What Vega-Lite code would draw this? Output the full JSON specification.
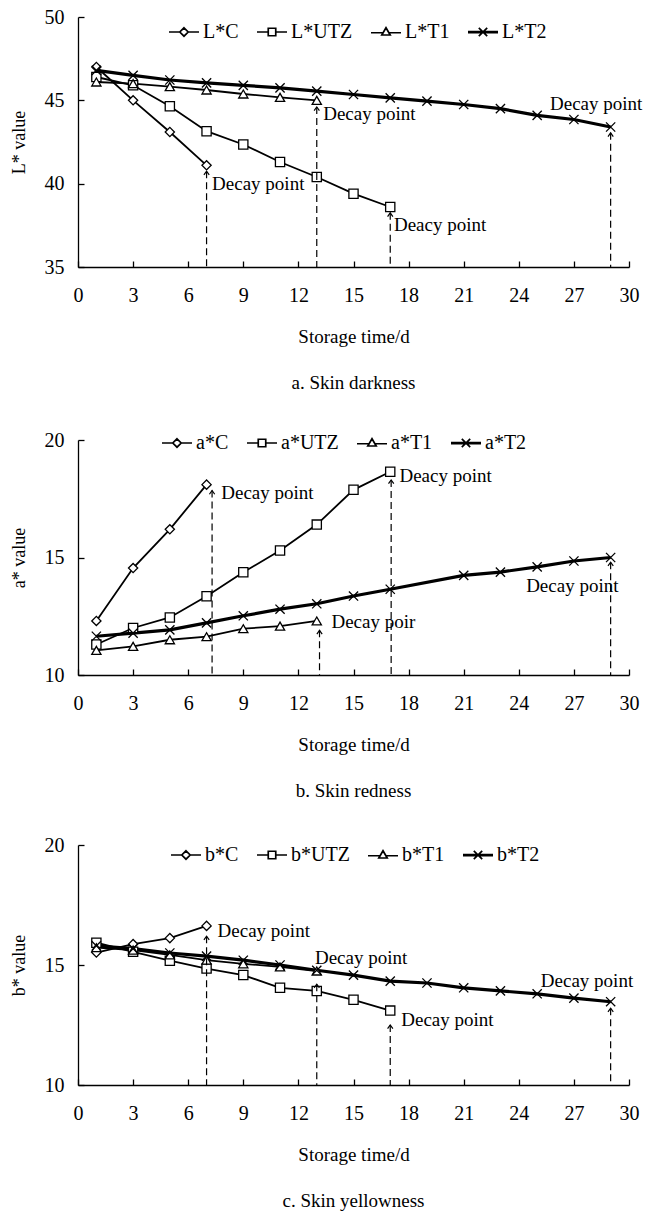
{
  "$schema": "https://vega.github.io/schema/vega-lite/v6.json",
  "padding": {"left": 10, "top": 7, "right": 0, "bottom": 0},
  "spacing": 34,
  "resolve": {"scale": {"shape": "independent"}, "legend": {"shape": "independent"}},
  "datasets": {
    "la": [
      {"day": 1, "value": 47.0, "series": "C"}, {"day": 3, "value": 45.0, "series": "C"}, {"day": 5, "value": 43.1, "series": "C"}, {"day": 7, "value": 41.1, "series": "C"},
      {"day": 1, "value": 46.4, "series": "UTZ"}, {"day": 3, "value": 45.9, "series": "UTZ"}, {"day": 5, "value": 44.65, "series": "UTZ"}, {"day": 7, "value": 43.15, "series": "UTZ"}, {"day": 9, "value": 42.35, "series": "UTZ"}, {"day": 11, "value": 41.3, "series": "UTZ"}, {"day": 13, "value": 40.4, "series": "UTZ"}, {"day": 15, "value": 39.4, "series": "UTZ"}, {"day": 17, "value": 38.6, "series": "UTZ"},
      {"day": 1, "value": 46.1, "series": "T1"}, {"day": 3, "value": 46.0, "series": "T1"}, {"day": 5, "value": 45.82, "series": "T1"}, {"day": 7, "value": 45.62, "series": "T1"}, {"day": 9, "value": 45.38, "series": "T1"}, {"day": 11, "value": 45.18, "series": "T1"}, {"day": 13, "value": 45.0, "series": "T1"},
      {"day": 1, "value": 46.8, "series": "T2"}, {"day": 3, "value": 46.5, "series": "T2"}, {"day": 5, "value": 46.22, "series": "T2"}, {"day": 7, "value": 46.05, "series": "T2"}, {"day": 9, "value": 45.9, "series": "T2"}, {"day": 11, "value": 45.75, "series": "T2"}, {"day": 13, "value": 45.55, "series": "T2"}, {"day": 15, "value": 45.35, "series": "T2"}, {"day": 17, "value": 45.15, "series": "T2"}, {"day": 19, "value": 44.95, "series": "T2"}, {"day": 21, "value": 44.75, "series": "T2"}, {"day": 23, "value": 44.5, "series": "T2"}, {"day": 25, "value": 44.1, "series": "T2"}, {"day": 27, "value": 43.85, "series": "T2"}, {"day": 29, "value": 43.4, "series": "T2"}
    ],
    "lad": [
      {"dx": 7, "top": 40.75, "lx": 7.3, "ly": 40.0, "label": "Decay point"},
      {"dx": 13, "top": 44.6, "lx": 13.35, "ly": 44.2, "label": "Decay point"},
      {"dx": 17, "top": 38.25, "lx": 17.2, "ly": 37.5, "label": "Deacy point"},
      {"dx": 29, "top": 43.05, "lx": 25.7, "ly": 44.8, "label": "Decay point"}
    ],
    "lb": [
      {"day": 1, "value": 12.3, "series": "C"}, {"day": 3, "value": 14.55, "series": "C"}, {"day": 5, "value": 16.2, "series": "C"}, {"day": 7, "value": 18.1, "series": "C"},
      {"day": 1, "value": 11.3, "series": "UTZ"}, {"day": 3, "value": 12.0, "series": "UTZ"}, {"day": 5, "value": 12.45, "series": "UTZ"}, {"day": 7, "value": 13.35, "series": "UTZ"}, {"day": 9, "value": 14.37, "series": "UTZ"}, {"day": 11, "value": 15.3, "series": "UTZ"}, {"day": 13, "value": 16.4, "series": "UTZ"}, {"day": 15, "value": 17.88, "series": "UTZ"}, {"day": 17, "value": 18.65, "series": "UTZ"},
      {"day": 1, "value": 11.05, "series": "T1"}, {"day": 3, "value": 11.22, "series": "T1"}, {"day": 5, "value": 11.5, "series": "T1"}, {"day": 7, "value": 11.63, "series": "T1"}, {"day": 9, "value": 11.97, "series": "T1"}, {"day": 11, "value": 12.08, "series": "T1"}, {"day": 13, "value": 12.3, "series": "T1"},
      {"day": 1, "value": 11.65, "series": "T2"}, {"day": 3, "value": 11.78, "series": "T2"}, {"day": 5, "value": 11.92, "series": "T2"}, {"day": 7, "value": 12.22, "series": "T2"}, {"day": 9, "value": 12.52, "series": "T2"}, {"day": 11, "value": 12.8, "series": "T2"}, {"day": 13, "value": 13.03, "series": "T2"}, {"day": 15, "value": 13.36, "series": "T2"}, {"day": 17, "value": 13.65, "series": "T2"}, {"day": 21, "value": 14.24, "series": "T2"}, {"day": 23, "value": 14.38, "series": "T2"}, {"day": 25, "value": 14.6, "series": "T2"}, {"day": 27, "value": 14.85, "series": "T2"}, {"day": 29, "value": 15.0, "series": "T2"}
    ],
    "lbd": [
      {"dx": 7.3, "top": 17.85, "lx": 7.8, "ly": 17.75, "label": "Decay point"},
      {"dx": 13.15, "top": 11.9, "lx": 13.8, "ly": 12.25, "label": "Decay poir"},
      {"dx": 17.05, "top": 18.3, "lx": 17.5, "ly": 18.45, "label": "Deacy point"},
      {"dx": 29, "top": 14.8, "lx": 24.4, "ly": 13.8, "label": "Decay point"}
    ],
    "lc": [
      {"day": 1, "value": 15.52, "series": "C"}, {"day": 3, "value": 15.87, "series": "C"}, {"day": 5, "value": 16.12, "series": "C"}, {"day": 7, "value": 16.63, "series": "C"},
      {"day": 1, "value": 15.93, "series": "UTZ"}, {"day": 3, "value": 15.55, "series": "UTZ"}, {"day": 5, "value": 15.18, "series": "UTZ"}, {"day": 7, "value": 14.85, "series": "UTZ"}, {"day": 9, "value": 14.58, "series": "UTZ"}, {"day": 11, "value": 14.05, "series": "UTZ"}, {"day": 13, "value": 13.92, "series": "UTZ"}, {"day": 15, "value": 13.55, "series": "UTZ"}, {"day": 17, "value": 13.1, "series": "UTZ"},
      {"day": 1, "value": 15.72, "series": "T1"}, {"day": 3, "value": 15.62, "series": "T1"}, {"day": 5, "value": 15.42, "series": "T1"}, {"day": 7, "value": 15.2, "series": "T1"}, {"day": 9, "value": 15.05, "series": "T1"}, {"day": 11, "value": 14.92, "series": "T1"}, {"day": 13, "value": 14.75, "series": "T1"},
      {"day": 1, "value": 15.8, "series": "T2"}, {"day": 3, "value": 15.68, "series": "T2"}, {"day": 5, "value": 15.5, "series": "T2"}, {"day": 7, "value": 15.37, "series": "T2"}, {"day": 9, "value": 15.2, "series": "T2"}, {"day": 11, "value": 15.0, "series": "T2"}, {"day": 13, "value": 14.78, "series": "T2"}, {"day": 15, "value": 14.58, "series": "T2"}, {"day": 17, "value": 14.33, "series": "T2"}, {"day": 19, "value": 14.25, "series": "T2"}, {"day": 21, "value": 14.05, "series": "T2"}, {"day": 23, "value": 13.92, "series": "T2"}, {"day": 25, "value": 13.8, "series": "T2"}, {"day": 27, "value": 13.62, "series": "T2"}, {"day": 29, "value": 13.47, "series": "T2"}
    ],
    "lcd": [
      {"dx": 7, "top": 16.2, "lx": 7.6, "ly": 16.4, "label": "Decay point"},
      {"dx": 13, "top": 14.2, "lx": 12.9, "ly": 15.28, "label": "Decay point"},
      {"dx": 17, "top": 12.5, "lx": 17.6, "ly": 12.7, "label": "Decay point"},
      {"dx": 29, "top": 13.2, "lx": 25.2, "ly": 14.33, "label": "Decay point"}
    ]
  },
  "vconcat": [
    {
      "width": 551, "height": 250,
      "title": {"text": "a. Skin darkness", "orient": "bottom", "offset": 28},
      "resolve": {"scale": {"shape": "independent"}, "legend": {"shape": "independent"}},
      "layer": [
        {
          "data": {"name": "la"},
          "transform": [{"filter": "datum.series !== 'T2'"}],
          "mark": {"type": "line", "color": "black", "strokeWidth": 1.8},
          "encoding": {
            "x": {"field": "day", "type": "quantitative", "scale": {"domain": [0, 30], "nice": false}, "axis": {"title": "Storage time/d", "values": [0, 1.5, 3, 4.5, 6, 7.5, 9, 10.5, 12, 13.5, 15, 16.5, 18, 19.5, 21, 22.5, 24, 25.5, 27, 28.5, 30], "labelExpr": "datum.value % 3 === 0 ? datum.label : ''", "titlePadding": 22}},
            "y": {"field": "value", "type": "quantitative", "scale": {"domain": [35, 50], "nice": false, "zero": false}, "axis": {"title": "L* value", "values": [35, 40, 45, 50]}},
            "detail": {"field": "series"}
          }
        },
        {
          "data": {"name": "la"},
          "transform": [{"filter": "datum.series === 'T2'"}],
          "mark": {"type": "line", "color": "black", "strokeWidth": 3.2},
          "encoding": {
            "x": {"field": "day", "type": "quantitative"},
            "y": {"field": "value", "type": "quantitative"}
          }
        },
        {
          "data": {"name": "la"},
          "mark": {"type": "point", "filled": false, "fill": "white", "stroke": "black", "opacity": 0},
          "encoding": {
            "x": {"field": "day", "type": "quantitative"},
            "y": {"field": "value", "type": "quantitative"},
            "shape": {"field": "series", "type": "nominal", "scale": {"domain": ["C", "UTZ", "T1", "T2"], "range": [
              "M-1,0L-0.28,0M0.28,0L1,0M0,-0.28L0.28,0L0,0.28L-0.28,0Z",
              "M-1,0L-0.25,0M0.25,0L1,0M-0.25,-0.25L0.25,-0.25L0.25,0.25L-0.25,0.25Z",
              "M-1,0.05L-0.16,0.05M0.16,0.05L1,0.05M0,-0.28L0.28,0.2L-0.28,0.2Z",
              "M-1,-0.035L1,-0.035M-1,0.035L1,0.035M-0.28,-0.28L0.28,0.28M-0.28,0.28L0.28,-0.28"]},
              "legend": {"orient": "none", "legendX": 90, "legendY": -1, "direction": "horizontal", "title": null, "labelExpr": "'L*' + datum.label"}}
          }
        },
        {
          "data": {"name": "la"},
          "mark": {"type": "point", "filled": false, "fill": "white", "stroke": "black", "strokeWidth": 1.3, "size": 85, "opacity": 1},
          "encoding": {
            "x": {"field": "day", "type": "quantitative"},
            "y": {"field": "value", "type": "quantitative"},
            "shape": {"field": "series", "type": "nominal", "scale": {"domain": ["C", "UTZ", "T1", "T2"], "range": ["diamond", "square", "triangle-up", "M-1,-1L1,1M-1,1L1,-1"]}, "legend": null}
          }
        },
        {
          "data": {"name": "lad"},
          "mark": {"type": "rule", "color": "black", "strokeWidth": 1.2, "strokeDash": [7, 4]},
          "encoding": {
            "x": {"field": "dx", "type": "quantitative"},
            "y": {"field": "top", "type": "quantitative"},
            "y2": {"datum": 35}
          }
        },
        {
          "data": {"name": "lad"},
          "mark": {"type": "point", "shape": "M-1,1.4L0,0L1,1.4", "size": 28, "filled": false, "stroke": "black", "strokeWidth": 1.2, "opacity": 1},
          "encoding": {
            "x": {"field": "dx", "type": "quantitative"},
            "y": {"field": "top", "type": "quantitative"}
          }
        },
        {
          "data": {"name": "lad"},
          "mark": {"type": "text", "align": "left", "baseline": "middle", "fontSize": 19, "font": "Liberation Serif", "color": "black"},
          "encoding": {
            "x": {"field": "lx", "type": "quantitative"},
            "y": {"field": "ly", "type": "quantitative"},
            "text": {"field": "label"}
          }
        }
      ]
    },
    {
      "width": 551, "height": 235,
      "title": {"text": "b. Skin redness", "orient": "bottom", "offset": 28},
      "resolve": {"scale": {"shape": "independent"}, "legend": {"shape": "independent"}},
      "layer": [
        {
          "data": {"name": "lb"},
          "transform": [{"filter": "datum.series !== 'T2'"}],
          "mark": {"type": "line", "color": "black", "strokeWidth": 1.8},
          "encoding": {
            "x": {"field": "day", "type": "quantitative", "scale": {"domain": [0, 30], "nice": false}, "axis": {"title": "Storage time/d", "values": [0, 1.5, 3, 4.5, 6, 7.5, 9, 10.5, 12, 13.5, 15, 16.5, 18, 19.5, 21, 22.5, 24, 25.5, 27, 28.5, 30], "labelExpr": "datum.value % 3 === 0 ? datum.label : ''", "titlePadding": 22}},
            "y": {"field": "value", "type": "quantitative", "scale": {"domain": [10, 20], "nice": false, "zero": false}, "axis": {"title": "a* value", "values": [10, 15, 20]}},
            "detail": {"field": "series"}
          }
        },
        {
          "data": {"name": "lb"},
          "transform": [{"filter": "datum.series === 'T2'"}],
          "mark": {"type": "line", "color": "black", "strokeWidth": 3.2},
          "encoding": {
            "x": {"field": "day", "type": "quantitative"},
            "y": {"field": "value", "type": "quantitative"}
          }
        },
        {
          "data": {"name": "lb"},
          "mark": {"type": "point", "filled": false, "fill": "white", "stroke": "black", "opacity": 0},
          "encoding": {
            "x": {"field": "day", "type": "quantitative"},
            "y": {"field": "value", "type": "quantitative"},
            "shape": {"field": "series", "type": "nominal", "scale": {"domain": ["C", "UTZ", "T1", "T2"], "range": [
              "M-1,0L-0.28,0M0.28,0L1,0M0,-0.28L0.28,0L0,0.28L-0.28,0Z",
              "M-1,0L-0.25,0M0.25,0L1,0M-0.25,-0.25L0.25,-0.25L0.25,0.25L-0.25,0.25Z",
              "M-1,0.05L-0.16,0.05M0.16,0.05L1,0.05M0,-0.28L0.28,0.2L-0.28,0.2Z",
              "M-1,-0.035L1,-0.035M-1,0.035L1,0.035M-0.28,-0.28L0.28,0.28M-0.28,0.28L0.28,-0.28"]},
              "legend": {"orient": "none", "legendX": 83, "legendY": -13, "direction": "horizontal", "title": null, "labelExpr": "'a*' + datum.label"}}
          }
        },
        {
          "data": {"name": "lb"},
          "mark": {"type": "point", "filled": false, "fill": "white", "stroke": "black", "strokeWidth": 1.3, "size": 85, "opacity": 1},
          "encoding": {
            "x": {"field": "day", "type": "quantitative"},
            "y": {"field": "value", "type": "quantitative"},
            "shape": {"field": "series", "type": "nominal", "scale": {"domain": ["C", "UTZ", "T1", "T2"], "range": ["diamond", "square", "triangle-up", "M-1,-1L1,1M-1,1L1,-1"]}, "legend": null}
          }
        },
        {
          "data": {"name": "lbd"},
          "mark": {"type": "rule", "color": "black", "strokeWidth": 1.2, "strokeDash": [7, 4]},
          "encoding": {
            "x": {"field": "dx", "type": "quantitative"},
            "y": {"field": "top", "type": "quantitative"},
            "y2": {"datum": 10}
          }
        },
        {
          "data": {"name": "lbd"},
          "mark": {"type": "point", "shape": "M-1,1.4L0,0L1,1.4", "size": 28, "filled": false, "stroke": "black", "strokeWidth": 1.2, "opacity": 1},
          "encoding": {
            "x": {"field": "dx", "type": "quantitative"},
            "y": {"field": "top", "type": "quantitative"}
          }
        },
        {
          "data": {"name": "lbd"},
          "mark": {"type": "text", "align": "left", "baseline": "middle", "fontSize": 19, "font": "Liberation Serif", "color": "black"},
          "encoding": {
            "x": {"field": "lx", "type": "quantitative"},
            "y": {"field": "ly", "type": "quantitative"},
            "text": {"field": "label"}
          }
        }
      ]
    },
    {
      "width": 551, "height": 240,
      "title": {"text": "c. Skin yellowness", "orient": "bottom", "offset": 28},
      "resolve": {"scale": {"shape": "independent"}, "legend": {"shape": "independent"}},
      "layer": [
        {
          "data": {"name": "lc"},
          "transform": [{"filter": "datum.series !== 'T2'"}],
          "mark": {"type": "line", "color": "black", "strokeWidth": 1.8},
          "encoding": {
            "x": {"field": "day", "type": "quantitative", "scale": {"domain": [0, 30], "nice": false}, "axis": {"title": "Storage time/d", "values": [0, 1.5, 3, 4.5, 6, 7.5, 9, 10.5, 12, 13.5, 15, 16.5, 18, 19.5, 21, 22.5, 24, 25.5, 27, 28.5, 30], "labelExpr": "datum.value % 3 === 0 ? datum.label : ''", "titlePadding": 22}},
            "y": {"field": "value", "type": "quantitative", "scale": {"domain": [10, 20], "nice": false, "zero": false}, "axis": {"title": "b* value", "values": [10, 15, 20]}},
            "detail": {"field": "series"}
          }
        },
        {
          "data": {"name": "lc"},
          "transform": [{"filter": "datum.series === 'T2'"}],
          "mark": {"type": "line", "color": "black", "strokeWidth": 3.2},
          "encoding": {
            "x": {"field": "day", "type": "quantitative"},
            "y": {"field": "value", "type": "quantitative"}
          }
        },
        {
          "data": {"name": "lc"},
          "mark": {"type": "point", "filled": false, "fill": "white", "stroke": "black", "opacity": 0},
          "encoding": {
            "x": {"field": "day", "type": "quantitative"},
            "y": {"field": "value", "type": "quantitative"},
            "shape": {"field": "series", "type": "nominal", "scale": {"domain": ["C", "UTZ", "T1", "T2"], "range": [
              "M-1,0L-0.28,0M0.28,0L1,0M0,-0.28L0.28,0L0,0.28L-0.28,0Z",
              "M-1,0L-0.25,0M0.25,0L1,0M-0.25,-0.25L0.25,-0.25L0.25,0.25L-0.25,0.25Z",
              "M-1,0.05L-0.16,0.05M0.16,0.05L1,0.05M0,-0.28L0.28,0.2L-0.28,0.2Z",
              "M-1,-0.035L1,-0.035M-1,0.035L1,0.035M-0.28,-0.28L0.28,0.28M-0.28,0.28L0.28,-0.28"]},
              "legend": {"orient": "none", "legendX": 92, "legendY": -6, "direction": "horizontal", "title": null, "labelExpr": "'b*' + datum.label"}}
          }
        },
        {
          "data": {"name": "lc"},
          "mark": {"type": "point", "filled": false, "fill": "white", "stroke": "black", "strokeWidth": 1.3, "size": 85, "opacity": 1},
          "encoding": {
            "x": {"field": "day", "type": "quantitative"},
            "y": {"field": "value", "type": "quantitative"},
            "shape": {"field": "series", "type": "nominal", "scale": {"domain": ["C", "UTZ", "T1", "T2"], "range": ["diamond", "square", "triangle-up", "M-1,-1L1,1M-1,1L1,-1"]}, "legend": null}
          }
        },
        {
          "data": {"name": "lcd"},
          "mark": {"type": "rule", "color": "black", "strokeWidth": 1.2, "strokeDash": [7, 4]},
          "encoding": {
            "x": {"field": "dx", "type": "quantitative"},
            "y": {"field": "top", "type": "quantitative"},
            "y2": {"datum": 10}
          }
        },
        {
          "data": {"name": "lcd"},
          "mark": {"type": "point", "shape": "M-1,1.4L0,0L1,1.4", "size": 28, "filled": false, "stroke": "black", "strokeWidth": 1.2, "opacity": 1},
          "encoding": {
            "x": {"field": "dx", "type": "quantitative"},
            "y": {"field": "top", "type": "quantitative"}
          }
        },
        {
          "data": {"name": "lcd"},
          "mark": {"type": "text", "align": "left", "baseline": "middle", "fontSize": 19, "font": "Liberation Serif", "color": "black"},
          "encoding": {
            "x": {"field": "lx", "type": "quantitative"},
            "y": {"field": "ly", "type": "quantitative"},
            "text": {"field": "label"}
          }
        }
      ]
    }
  ],
  "config": {
    "font": "Liberation Serif",
    "background": "white",
    "view": {"stroke": null},
    "axis": {"grid": false, "domainColor": "black", "domainWidth": 1.3, "tickColor": "black", "tickWidth": 1.3, "tickSize": -6, "labelColor": "black", "titleColor": "black", "labelFont": "Liberation Serif", "titleFont": "Liberation Serif", "labelFontSize": 20, "titleFontSize": 19, "titleFontWeight": "normal", "labelOverlap": false, "labelFlush": false},
    "axisX": {"labelPadding": 24},
    "axisY": {"labelPadding": 20, "titlePadding": 16, "titleFontSize": 18},
    "legend": {"labelFont": "Liberation Serif", "labelFontSize": 20, "labelColor": "black", "symbolSize": 900, "symbolStrokeWidth": 1.7, "symbolOpacity": 1, "labelOffset": 3, "columnPadding": 14, "padding": 0},
    "title": {"font": "Liberation Serif", "fontSize": 19, "fontWeight": "normal", "color": "black", "anchor": "middle"}
  }
}
